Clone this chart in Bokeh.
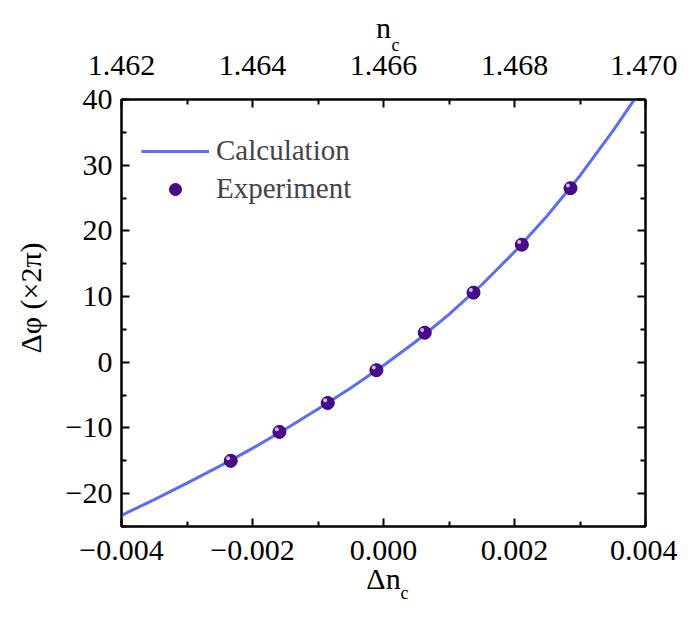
from bokeh.plotting import figure
from bokeh.models import (LinearAxis, Range1d, FixedTicker, Label, Legend, LegendItem,
                          ColumnDataSource)
from bokeh.transform import dodge
from bokeh.embed import file_html
from bokeh.resources import INLINE

# ---- data ----
calc_dn = [-0.0040, -0.0035, -0.0030, -0.0025, -0.0020, -0.0015, -0.0010, -0.0005,
           0.0000, 0.0005, 0.0010, 0.0015, 0.0020, 0.0025, 0.0030, 0.0035, 0.0039]
calc_phi = [-23.3, -20.9, -18.4, -15.8, -13.1, -10.2, -7.1, -3.9,
            -0.5, 3.2, 7.3, 11.8, 16.8, 22.3, 28.4, 35.2, 41.0]

exp_dn = [-0.002332, -0.001589, -0.000851, -0.000108, 0.000630, 0.001374, 0.002112, 0.002855]
exp_phi = [-15.0, -10.6, -6.2, -1.2, 4.5, 10.6, 17.9, 26.5]

x_ticks = [-0.004, -0.002, 0.0, 0.002, 0.004]
x_tick_labels = ["\u22120.004", "\u22120.002", "0.000", "0.002", "0.004"]
x_minor = [-0.003, -0.001, 0.001, 0.003]

nc_ticks = [1.462, 1.464, 1.466, 1.468, 1.470]
nc_tick_labels = ["1.462", "1.464", "1.466", "1.468", "1.470"]
nc_minor = [1.463, 1.465, 1.467, 1.469]

y_ticks = [-20, -10, 0, 10, 20, 30, 40]
y_tick_labels = ["\u221220", "\u221210", "0", "10", "20", "30", "40"]
y_minor = [-25, -15, -5, 5, 15, 25, 35]

X0, X1 = -0.004, 0.004
Y0, Y1 = -25.0, 40.0

FONT = "Liberation Serif"
TICK_SIZE = "30px"
TITLE_SIZE = "30px"
SUB_SIZE = "18px"
LINE_COLOR = "#5A6EF0"
DOT_COLOR = "#4A0A8E"

W, H = 677, 601
BL, BR, BT, BB = 121, 32, 99, 75
FW, FH = W - BL - BR, H - BT - BB

p = figure(width=W, height=H, x_range=Range1d(X0, X1), y_range=Range1d(Y0, Y1),
           output_backend="svg", toolbar_location=None,
           x_axis_location=None, y_axis_location=None,
           min_border_left=BL, min_border_right=BR, min_border_top=BT, min_border_bottom=BB)
p.grid.visible = False
p.outline_line_color = "black"
p.outline_line_width = 2
p.background_fill_color = "white"
p.border_fill_color = "white"
p.extra_x_ranges = {"nc": Range1d(nc_ticks[0], nc_ticks[-1])}


def style_axis(ax, ticks, minor, labels):
    ax.ticker = FixedTicker(ticks=ticks, minor_ticks=minor)
    ax.major_label_overrides = dict(zip(ticks, labels))
    ax.axis_line_width = 2
    ax.axis_line_color = "black"
    ax.major_tick_in = 8
    ax.major_tick_out = 0
    ax.minor_tick_in = 5
    ax.minor_tick_out = 0
    ax.major_tick_line_width = 2
    ax.minor_tick_line_width = 2
    ax.major_label_text_font = FONT
    ax.major_label_text_font_size = TICK_SIZE
    ax.major_label_text_color = "black"
    ax.axis_label_text_font = FONT
    ax.axis_label_text_font_style = "normal"
    ax.axis_label_text_font_size = TITLE_SIZE
    ax.axis_label_text_color = "black"


bottom = LinearAxis(axis_label="\u0394n")
style_axis(bottom, x_ticks, x_minor, x_tick_labels)
bottom.major_label_standoff = 14
bottom.axis_label_standoff = -1
p.add_layout(bottom, "below")

top = LinearAxis(x_range_name="nc", axis_label="n")
style_axis(top, nc_ticks, nc_minor, nc_tick_labels)
top.major_label_standoff = 25
top.axis_label_standoff = 9
p.add_layout(top, "above")

left = LinearAxis(axis_label="\u00a0\u00a0\u00a0\u00a0\u0394\u03c6 (\u00d72\u03c0)")
style_axis(left, y_ticks, y_minor, y_tick_labels)
left.major_label_standoff = 9
left.axis_label_standoff = 16
p.add_layout(left, "left")

right = LinearAxis()
style_axis(right, y_ticks, y_minor, ["" for _ in y_ticks])
right.major_label_standoff = 0
p.add_layout(right, "right")

# ---- glyphs ----
calc_src = ColumnDataSource(dict(dn=calc_dn, phi=calc_phi))
exp_src = ColumnDataSource(dict(dn=exp_dn, phi=exp_phi))

r_line = p.line("dn", "phi", source=calc_src, line_color=LINE_COLOR, line_width=3)
r_dots = p.scatter("dn", "phi", source=exp_src, size=13, marker="circle",
                   fill_color=DOT_COLOR, line_color="#38006E", line_width=1)
p.scatter(dodge("dn", -0.00004), dodge("phi", 0.4), source=exp_src, size=4,
          marker="circle", fill_color="#DCCFF4", line_color=None, fill_alpha=0.9)

legend = Legend(items=[LegendItem(label="Calculation", renderers=[r_line]),
                       LegendItem(label="Experiment", renderers=[r_dots])],
                location=(20, 321), glyph_width=68, glyph_height=30, spacing=5,
                padding=10, margin=0, label_standoff=7,
                label_text_font=FONT, label_text_font_size="29px",
                border_line_color=None, background_fill_alpha=0)
p.add_layout(legend, "center")


# ---- subscripts of the axis titles (side panel, so not clipped) ----
def dx(px):
    return X0 + (px - BL) / FW * (X1 - X0)


def dy(py):
    return Y1 - (py - BT) / FH * (Y1 - Y0)


for px, py in [(400, 592), (391, 44)]:
    p.add_layout(Label(x=dx(px), y=dy(py), text="c", text_font=FONT,
                       text_font_size=SUB_SIZE, text_align="left",
                       text_baseline="alphabetic", text_color="black"), "right")

open("out.html", "w").write(file_html(p, INLINE))
